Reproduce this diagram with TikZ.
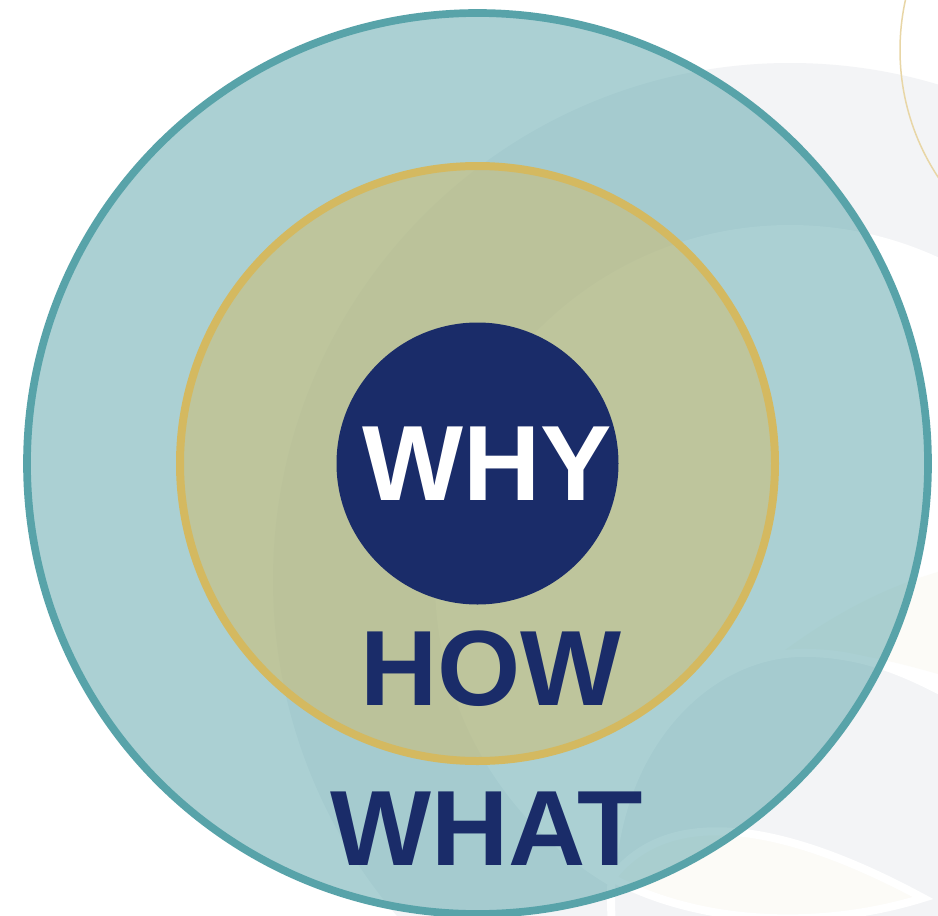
\documentclass[tikz,border=0pt]{standalone}
\usepackage{fontspec}
\setmainfont{Liberation Sans}
\definecolor{bggray}{HTML}{F3F4F6}
\definecolor{bgcream}{HTML}{FCFBF7}
\definecolor{thingold}{HTML}{E8D6A6}
\definecolor{tealline}{HTML}{58A3A9}
\definecolor{goldring}{HTML}{D4B960}
\definecolor{navy}{HTML}{1A2C69}
\tikzset{
  ringnode/.style={circle, inner sep=0pt, outer sep=0pt},
  wordnode/.style={anchor=base, inner sep=0pt, font=\fontsize{107}{107}\selectfont\bfseries},
}
\begin{document}
\begin{tikzpicture}[x=1pt,y=-1pt]
\useasboundingbox (0,0) rectangle (938,916);
\clip (0,0) rectangle (938,916);
\fill[white] (0,0) rectangle (938,916);
% background decoration
\fill[bggray] (790,580) circle[radius=517pt];
\fill[white] (790,580) circle[radius=355pt];
\fill[bgcream] (785,650) .. controls (840,610) and (890,585) .. (945,570) -- (945,676) .. controls (890,660) and (840,648) .. (785,650) -- cycle;
\filldraw[fill=bggray, draw=white, line width=8pt] (612,925) .. controls (600,760) and (700,655) .. (800,653) .. controls (860,652) and (905,672) .. (950,696) -- (950,925) -- cycle;
\filldraw[fill=bgcream, draw=white, line width=8pt] (612,878) .. controls (660,815) and (760,810) .. (923,898) .. controls (820,930) and (700,925) .. (612,878) -- cycle;
\draw[thingold, line width=1.5pt] (1131,50) circle[radius=231pt];
% rings
\node[ringnode, draw=tealline, line width=7.7pt, fill=tealline, fill opacity=0.5, draw opacity=1, minimum size=901pt] (whatring) at (477.5,463.5) {};
\node[ringnode, draw=goldring, line width=8pt, fill=goldring, fill opacity=0.47, draw opacity=1, minimum size=595pt] (howring) at (477.5,463.5) {};
\node[ringnode, fill=navy, minimum size=282pt] (whyring) at (477.5,463.5) {};
% words
\node[wordnode, text=white] (why) at (487.5,500) {WHY};
\node[wordnode, text=navy] (how) at (491,705) {HOW};
\node[wordnode, text=navy] (what) at (486.5,865) {WHAT};
\end{tikzpicture}
\end{document}
